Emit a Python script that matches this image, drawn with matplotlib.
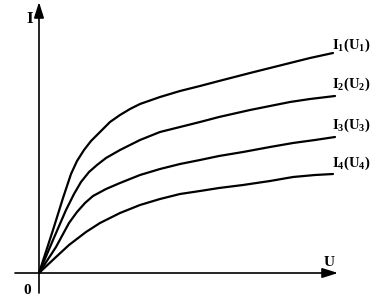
import matplotlib
matplotlib.use("Agg")
import matplotlib.pyplot as plt

plt.rcParams["font.family"] = "Liberation Serif"
plt.rcParams["mathtext.fontset"] = "custom"
plt.rcParams["mathtext.rm"] = "Liberation Serif:bold"
plt.rcParams["mathtext.bf"] = "Liberation Serif:bold"
plt.rcParams["mathtext.it"] = "Liberation Serif:bold"

# I-U curves (arbitrary units, origin at 0,0)
u1 = [0, 14, 24, 32, 38, 45, 52, 61, 71, 81, 91, 101, 121, 141, 161, 180, 211, 231, 251, 271, 294]
i1 = [0, 43, 75, 99, 112, 123, 132, 141, 151, 158, 164, 169, 176, 182, 187, 192, 200, 205, 210, 215, 220]

u2 = [0, 14, 27, 35, 42, 50, 58, 67, 81, 101, 121, 141, 161, 180, 211, 231, 251, 271, 296]
i2 = [0, 33, 63, 79, 91, 101, 108, 115, 123, 133, 141, 146, 151, 156, 163, 167, 171, 174, 177]

u3 = [0, 17, 30, 38, 46, 54, 67, 81, 101, 121, 141, 161, 180, 204, 231, 254, 276, 296]
i3 = [0, 26, 50, 61, 70, 77, 84, 90, 98, 104, 109, 113, 117, 121, 126, 130, 133, 136]

u4 = [0, 17, 30, 47, 61, 81, 101, 121, 141, 161, 180, 204, 231, 254, 276, 294]
i4 = [0, 16, 28, 41, 50, 60, 68, 74, 79, 82, 85, 88, 92, 96, 98, 99]

curves = [(u1, i1), (u2, i2), (u3, i3), (u4, i4)]
labels = [r"$\mathrm{I_1(U_1)}$", r"$\mathrm{I_2(U_2)}$",
          r"$\mathrm{I_3(U_3)}$", r"$\mathrm{I_4(U_4)}$"]
label_dy = [4, 8, 8, 7]

fig = plt.figure(figsize=(3.78, 2.98), dpi=100)
ax = fig.add_axes([0, 0, 1, 1])
ax.set_xlim(-39, 339)
ax.set_ylim(-25, 273)
ax.axis("off")

# axes with arrows
arrow = dict(arrowstyle="-|>,head_length=0.95,head_width=0.3", lw=1.2,
             color="k", mutation_scale=10, shrinkA=0, shrinkB=0)
ax.annotate("", xy=(299, 0), xytext=(-24, 0), arrowprops=arrow)
ax.annotate("", xy=(0, 271), xytext=(0, -20), arrowprops=arrow)

for (u, i), lab, dy in zip(curves, labels, label_dy):
    ax.plot(u, i, color="k", lw=1.6, solid_capstyle="round",
            solid_joinstyle="round")
    ax.text(293, i[-1] + dy, lab, fontsize=10.5, ha="left", va="baseline")

ax.text(-9.5, 254, "I", fontsize=12.5, fontweight="bold", ha="center", va="center")
ax.text(290, 11, "U", fontsize=11, fontweight="bold", ha="center", va="center")
ax.text(-11.5, -17, "0", fontsize=11, fontweight="bold", ha="center", va="center")

fig.savefig("out.png", dpi=100)
plt.close(fig)
